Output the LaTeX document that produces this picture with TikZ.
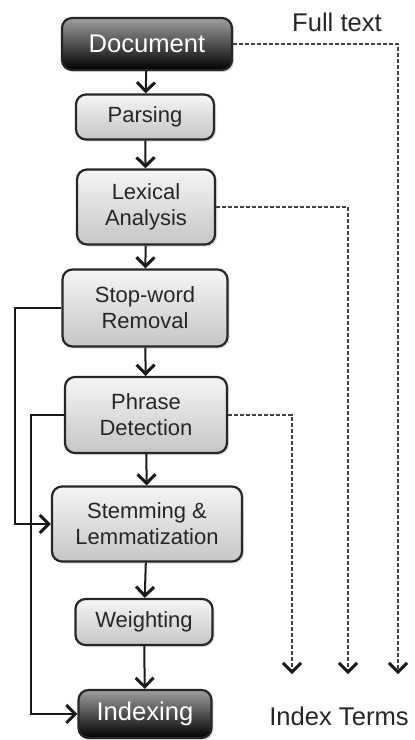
\documentclass[tikz,border=0pt]{standalone}
\usepackage{fontspec}
\setmainfont{Liberation Sans}
\usepackage{tikz}
\usetikzlibrary{arrows.meta,shadows}
\tikzset{%
  stage/.style={draw=black!85,line width=1.1pt,rounded corners=5pt,align=center,
    top color=gray!8,bottom color=gray!45,text=black!85,font=\fontsize{11}{13}\selectfont,
    inner sep=0pt,drop shadow={opacity=0.25,shadow xshift=1pt,shadow yshift=-1pt}},
  endstage/.style={stage,top color=gray!75,bottom color=black,text=white,
    font=\fontsize{12.8}{15}\selectfont},
  flow/.style={draw=black!90,line width=1pt,-{Straight Barb[length=4.5pt,width=9pt,line width=1.5pt]}},
  termflow/.style={draw=black!75,dash pattern=on 2pt off 1pt,line width=0.9pt,
    -{Straight Barb[length=4.5pt,width=9pt,line width=1.5pt,color=black!90]}},
  lbl/.style={font=\fontsize{12.8}{15}\selectfont,text=black!85}
}
\begin{document}
\begin{tikzpicture}[x=0.5pt,y=-0.5pt]
    \useasboundingbox (0,0) rectangle (414,740);
    \path
      (147,44)  node (doc)[endstage,minimum width=85pt,minimum height=26pt]{Document}
      (145,117) node (parse)[stage,minimum width=69pt,minimum height=22.5pt]{Parsing}
      (146,207) node (lex)[stage,minimum width=69pt,minimum height=37.5pt]{Lexical\\Analysis}
      (145,308) node (stop)[stage,minimum width=82.5pt,minimum height=38.5pt]{Stop-word\\Removal}
      (146,415) node (phrase)[stage,minimum width=81pt,minimum height=38pt]{Phrase\\Detection}
      (147,524) node (stem)[stage,minimum width=95pt,minimum height=37.5pt]{Stemming \&\\Lemmatization}
      (144,622) node (weight)[stage,minimum width=68.5pt,minimum height=23pt]{Weighting}
      (145,714) node (index)[endstage,minimum width=66.5pt,minimum height=24pt]{Indexing};
    \path
      (337,22)  node (full)[lbl]{Full text}
      (339,716) node (terms)[lbl]{Index Terms};
    \coordinate (ftend) at (398,674);
    \coordinate (lxend) at (348,674);
    \coordinate (phend) at (292,674);
    % main chain
    \draw[flow] (doc) -- (parse);
    \draw[flow] (parse) -- (lex);
    \draw[flow] (lex) -- (stop);
    \draw[flow] (stop) -- (phrase);
    \draw[flow] (phrase) -- (stem);
    \draw[flow] (stem) -- (weight);
    \draw[flow] (weight) -- (index);
    % skips
    \draw[flow] (stop.west) -- ++(-46,0) |- (stem.west);
    \draw[flow] (phrase.west) -- ++(-33,0) |- (index.west);
    % index terms
    \draw[termflow] (doc.east) -| (ftend);
    \draw[termflow] (lex.east) -| (lxend);
    \draw[termflow] (phrase.east) -| (phend);
  \end{tikzpicture}
\end{document}
